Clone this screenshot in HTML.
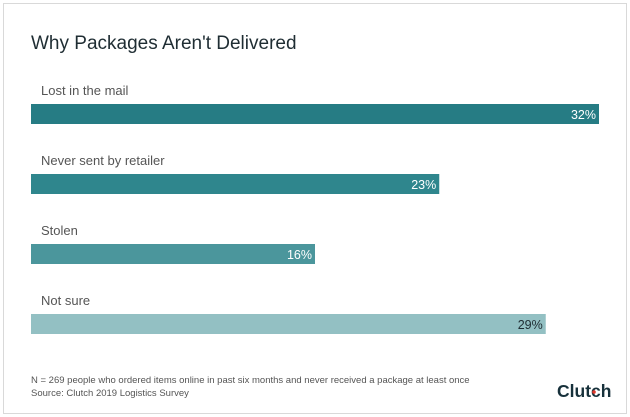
<!DOCTYPE html>
<html><head><meta charset="utf-8"><style>
body{margin:0;width:630px;height:417px;background:#fff;font-family:"Liberation Sans",sans-serif;overflow:hidden}
#frame{position:absolute;left:3px;top:3px;width:622px;height:409px;border:1px solid #d9d9d9}
</style></head><body>
<div id="frame"></div>
<svg width="630" height="417" style="position:absolute;left:0;top:0">
<text x="31" y="49" font-size="19" fill="#1f2d33">Why Packages Aren't Delivered</text>
<g id="bars"></g>
<text x="31" y="383" font-size="9.5" fill="#555">N = 269 people who ordered items online in past six months and never received a package at least once</text>
<text x="31" y="396" font-size="9.5" fill="#555">Source: Clutch 2019 Logistics Survey</text>
<text x="557" y="397" font-size="17.5" font-weight="bold" fill="#17313b">Clutch</text>
<circle cx="594" cy="392" r="1.8" fill="#e2372a"/>
</svg>
<script>
const categories=["Lost in the mail","Never sent by retailer","Stolen","Not sure"];
const values=[32,23,16,29];
const colors=["#267c84","#2f868d","#4b969c","#93c0c3"];
const x0=31,pxPer=17.75,rowTop=104,rowGap=70,barH=20;
const g=document.getElementById('bars');const NS="http://www.w3.org/2000/svg";
const xs=v=>x0+v*pxPer;
categories.forEach((c,i)=>{
 const y=rowTop+i*rowGap;
 const t=document.createElementNS(NS,'text');t.setAttribute('x',41);t.setAttribute('y',y-9);t.setAttribute('font-size',13);t.setAttribute('fill','#555');t.textContent=c;
 
 
 g.appendChild(t);
 const r=document.createElementNS(NS,'rect');r.setAttribute('x',x0);r.setAttribute('y',y);r.setAttribute('width',xs(values[i])-x0);r.setAttribute('height',barH);r.setAttribute('fill',colors[i]);
 
 
 g.appendChild(r);
 const v=document.createElementNS(NS,'text');v.setAttribute('x',xs(values[i])-3);v.setAttribute('y',y+15);v.setAttribute('font-size',12.5);v.setAttribute('text-anchor','end');v.setAttribute('fill',i==3?'#1f2d33':'#fff');v.textContent=values[i]+'%';
 
 
 g.appendChild(v);
});
</script>
</body></html>
